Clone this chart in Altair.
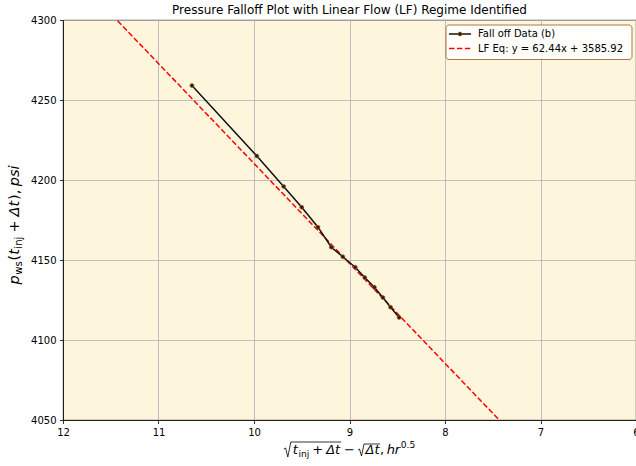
import altair as alt
import pandas as pd

# ---------------- data ----------------
x_vals = [10.65, 9.97, 9.69, 9.50, 9.33, 9.19, 9.07, 8.94, 8.84, 8.74, 8.65, 8.57, 8.48]
p_vals = [4259.0, 4215.0, 4196.0, 4183.0, 4170.5, 4158.0, 4152.0, 4145.5, 4139.0, 4133.0, 4126.5, 4120.5, 4114.0]
slope = 62.44
intercept = 3585.92
fit_x = [12.0, 6.0]
x_ticks = [12, 11, 10, 9, 8, 7, 6]
y_ticks = [4050, 4100, 4150, 4200, 4250, 4300]
x_domain = [6, 12]
y_domain = [4050, 4300]
title_text = "Pressure Falloff Plot with Linear Flow (LF) Regime Identified"
data_label = "Fall off Data (b)"
fit_label = f"LF Eq: y = {slope:.2f}x + {intercept:.2f}"

df = pd.DataFrame({"x": x_vals, "p": p_vals})
fit_df = pd.DataFrame({"x": fit_x, "p": [slope * v + intercept for v in fit_x]})
one = pd.DataFrame({"a": [0]})

# ---------------- layout ----------------
PL, PT, PR, PB = 63, 20, 0, 46
W, H = 636 - PL - PR, 466 - PT - PB
FONT = "DejaVu Sans"
BG = "#fdf5dc"

xscale = alt.Scale(domain=x_domain, reverse=True, nice=False, zero=False)
yscale = alt.Scale(domain=y_domain, nice=False, zero=False)

axis_common = dict(
    grid=True, gridColor="#b0b0b0", gridWidth=0.8,
    domainColor="black", domainWidth=0.8,
    tickColor="black", tickSize=3.5, tickWidth=0.8,
    labelFont=FONT, labelFontSize=10, labelColor="black", labelPadding=3.5,
    labelFlush=False, labelOverlap=False, title=None, format="d",
)
xaxis = alt.Axis(values=x_ticks, **axis_common)
yaxis = alt.Axis(values=y_ticks, **axis_common)

data_line = alt.Chart(df).mark_line(color="#111111", strokeWidth=1.5).encode(
    x=alt.X("x:Q", scale=xscale, axis=xaxis),
    y=alt.Y("p:Q", scale=yscale, axis=yaxis),
)
data_pts = alt.Chart(df).mark_circle(
    size=16, fill="#2a1c10", stroke="#b5651d", strokeWidth=0.6, opacity=1
).encode(x=alt.X("x:Q", scale=xscale), y=alt.Y("p:Q", scale=yscale))

fit_line = alt.Chart(fit_df).mark_line(
    color="#ff0000", strokeWidth=1.5, strokeDash=[5.5, 2.4], clip=True
).encode(x=alt.X("x:Q", scale=xscale), y=alt.Y("p:Q", scale=yscale))


def txt(s, px, py, size, italic=False, angle=0, align="left", baseline="alphabetic"):
    props = dict(text=s, fontSize=size, font=FONT, align=align, baseline=baseline, color="black")
    if italic:
        props["fontStyle"] = "italic"
    if angle:
        props["angle"] = angle
    return alt.Chart(one).mark_text(**props).encode(x=alt.value(px - PL), y=alt.value(py - PT))


def seg(x1, y1, x2, y2, color="black", width=0.8, dash=None):
    props = dict(color=color, strokeWidth=width)
    if dash:
        props["strokeDash"] = dash
    return alt.Chart(one).mark_rule(**props).encode(
        x=alt.value(x1 - PL), x2=alt.value(x2 - PL), y=alt.value(y1 - PT), y2=alt.value(y2 - PT)
    )


EM = {"p": 0.635, "w": 0.818, "s": 0.521, "(": 0.390, ")": 0.390, "t": 0.392, "i": 0.278,
      "n": 0.634, "j": 0.278, "+": 0.838, "Δ": 0.684, ",": 0.318, " ": 0.318, "h": 0.634,
      "r": 0.411, "0": 0.636, ".": 0.318, "5": 0.636, "−": 0.838}


def wid(s, size):
    return sum(EM.get(c, 0.6) for c in s) * size


layers = []

# title
layers.append(txt(title_text, PL + W / 2, 14, 12, align="center"))

# ---------- x label (composite) ----------
S = 13
SS = 0.7 * S
B = 454
xpieces = [("RAD", S, False, 0, 0), ("t", S, True, 0, 1), ("inj", SS, False, 3, 0.5),
           ("+", S, False, 0, 3), ("Δt", S, True, 0, 3), ("END", 0, False, 0, 1),
           ("−", S, False, 0, 3), ("RAD2", S, False, 0, 3), ("Δt", S, True, 0, 0.5),
           ("END2", 0, False, 0, 0.5), (",", S, False, 0, 0), ("hr", S, True, 0, 2.5),
           ("0.5", SS, False, -6, 0.5)]
total = 0
for t, sz, it, sh, gap in xpieces:
    total += gap
    if t == "RAD":
        total += 8
    elif t == "RAD2":
        total += 7
    elif t.startswith("END"):
        pass
    else:
        total += wid(t, sz)
cx = PL + W / 2 - total / 2
rad_start = {}
for t, sz, it, sh, gap in xpieces:
    cx += gap
    if t in ("RAD", "RAD2"):
        top = B - 12 if t == "RAD" else B - 10
        rad_start[t] = (cx + 7 if t == "RAD" else cx + 6, top)
        if t == "RAD":
            layers += [seg(cx, B - 5, cx + 1.8, B - 6), seg(cx + 1.8, B - 6, cx + 4, B + 3),
                       seg(cx + 4, B + 3, cx + 7, top)]
            cx += 8
        else:
            layers += [seg(cx, B - 4, cx + 1.5, B - 5), seg(cx + 1.5, B - 5, cx + 3.5, B + 2),
                       seg(cx + 3.5, B + 2, cx + 6, top)]
            cx += 7
    elif t.startswith("END"):
        key = "RAD" if t == "END" else "RAD2"
        sx, top = rad_start[key]
        layers.append(seg(sx, top, cx, top))
    else:
        layers.append(txt(t, cx, B + sh, sz, italic=it))
        cx += wid(t, sz)

# ---------- y label (composite, rotated) ----------
YS = 14.5
YSS = 0.7 * YS
XB = 19
ypieces = [("p", YS, True, 0, 0), ("ws", YSS, False, 3, 0.5), ("(", YS, False, 0, 0.8),
           ("t", YS, True, 0, 0), ("inj", YSS, False, 3, 0.5), ("+", YS, False, 0, 4),
           ("Δt", YS, True, 0, 4), (")", YS, False, 0, 0.8), (",", YS, False, 0, 0),
           ("psi", YS, True, 0, 3.5)]
ytotal = sum(g + wid(t, sz) for t, sz, it, sh, g in ypieces)
cy = 225 + ytotal / 2
for t, sz, it, sh, gap in ypieces:
    cy -= gap
    layers.append(txt(t, XB + sh, cy, sz, italic=it, angle=270))
    cy -= wid(t, sz)

# ---------- legend ----------
legend_box = alt.Chart(one).mark_rect(
    fill="white", fillOpacity=0.85, stroke="#b07848", strokeWidth=1, cornerRadius=3
).encode(x=alt.value(446 - PL), x2=alt.value(632 - PL), y=alt.value(25 - PT), y2=alt.value(59.5 - PT))
layers.append(legend_box)
layers.append(seg(449, 34, 471, 34, color="#111111", width=1.5))
layers.append(alt.Chart(one).mark_circle(size=16, fill="#2a1c10", stroke="#b5651d", strokeWidth=0.6, opacity=1)
              .encode(x=alt.value(460 - PL), y=alt.value(34 - PT)))
layers.append(seg(449, 48.5, 471, 48.5, color="#ff0000", width=1.5, dash=[5.5, 2.4]))
layers.append(txt(data_label, 478, 34, 10, baseline="middle"))
layers.append(txt(fit_label, 478, 48.5, 10, baseline="middle"))

chart = alt.layer(fit_line, data_line, data_pts, *layers).properties(
    width=W, height=H,
    autosize=alt.AutoSizeParams(type="none"),
    padding={"left": PL, "top": PT, "right": PR, "bottom": PB},
    background="white",
).configure_view(fill=BG, stroke="black", strokeWidth=0.8)

chart.save("out.html", embed_options={"renderer": "svg", "actions": False})
